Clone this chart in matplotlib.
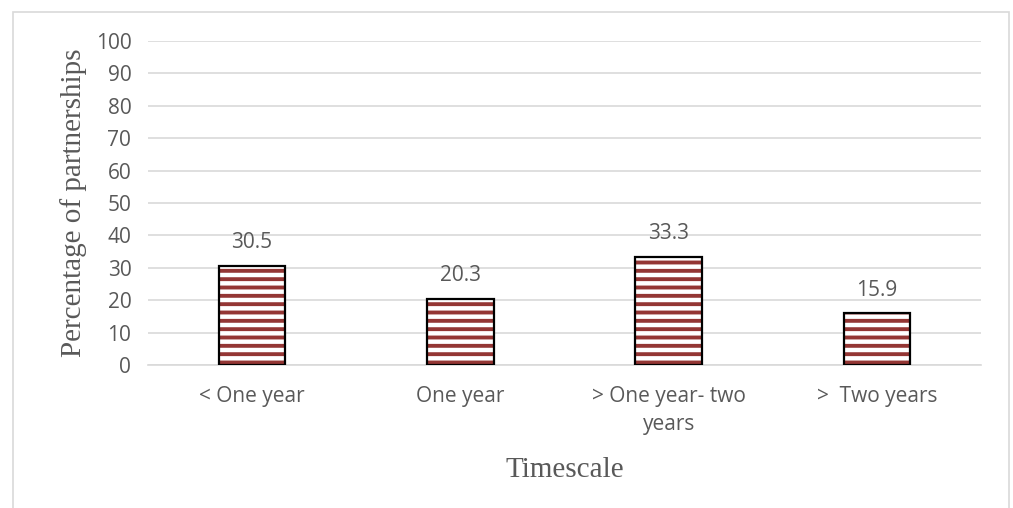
import matplotlib
matplotlib.use("Agg")
import matplotlib.pyplot as plt

# Share of partnerships by expected timescale
categories = ["< One year", "One year", "> One year- two\nyears", ">  Two years"]
values = [30.5, 20.3, 33.3, 15.9]
yticks = [0, 10, 20, 30, 40, 50, 60, 70, 80, 90, 100]

BAR_RED = "#943634"
GRID = "#D9D9D9"
TXT = "#595959"

plt.rcParams["hatch.linewidth"] = 2.8

fig = plt.figure(figsize=(10.13, 5.08), dpi=100)
fig.patch.set_facecolor("white")

# light chart-area border
fig.patches.append(plt.Rectangle((13 / 1013, -0.05), 996 / 1013, 1 - 12 / 508 + 0.05,
                                 transform=fig.transFigure, facecolor="none",
                                 edgecolor=GRID, lw=1.2, zorder=0))

ax = fig.add_axes([148 / 1013, 1 - 365 / 508, 833 / 1013, 324 / 508])
x = range(len(categories))
# striped fill (hatch takes the edge colour), then a black outline on top
ax.bar(x, values, width=0.32, color="white", edgecolor=BAR_RED, linewidth=0,
       hatch="--", zorder=3)
ax.bar(x, values, width=0.32, color="none", edgecolor="black", linewidth=1.6, zorder=4)
for xi, v in zip(x, values):
    ax.text(xi, v + 4.0, f"{v:.1f}", ha="center", va="bottom", fontsize=15,
            color=TXT, family="Open Sans")

ax.set_xlim(-0.5, len(categories) - 0.5)
ax.set_ylim(0, 100)
ax.set_yticks(yticks)
ax.yaxis.grid(True, color=GRID, lw=1.2, zorder=0)
ax.set_axisbelow(True)
for s in ["top", "right", "left"]:
    ax.spines[s].set_visible(False)
ax.spines["bottom"].set_color(GRID)
ax.spines["bottom"].set_linewidth(1.2)
ax.tick_params(axis="both", length=0, colors=TXT, labelsize=15)
ax.tick_params(axis="y", pad=12)
ax.tick_params(axis="x", pad=15)
ax.set_xticks(list(x))
ax.set_xticklabels(categories, family="Open Sans", linespacing=1.45)
for lab in ax.get_yticklabels():
    lab.set_family("Open Sans")

ax.set_ylabel("Percentage of partnerships", family="Liberation Serif", fontsize=21,
              color=TXT, labelpad=6)
ax.set_xlabel("Timescale", family="Liberation Serif", fontsize=21, color=TXT, labelpad=16)

fig.savefig("out.png", dpi=100, facecolor="white")
